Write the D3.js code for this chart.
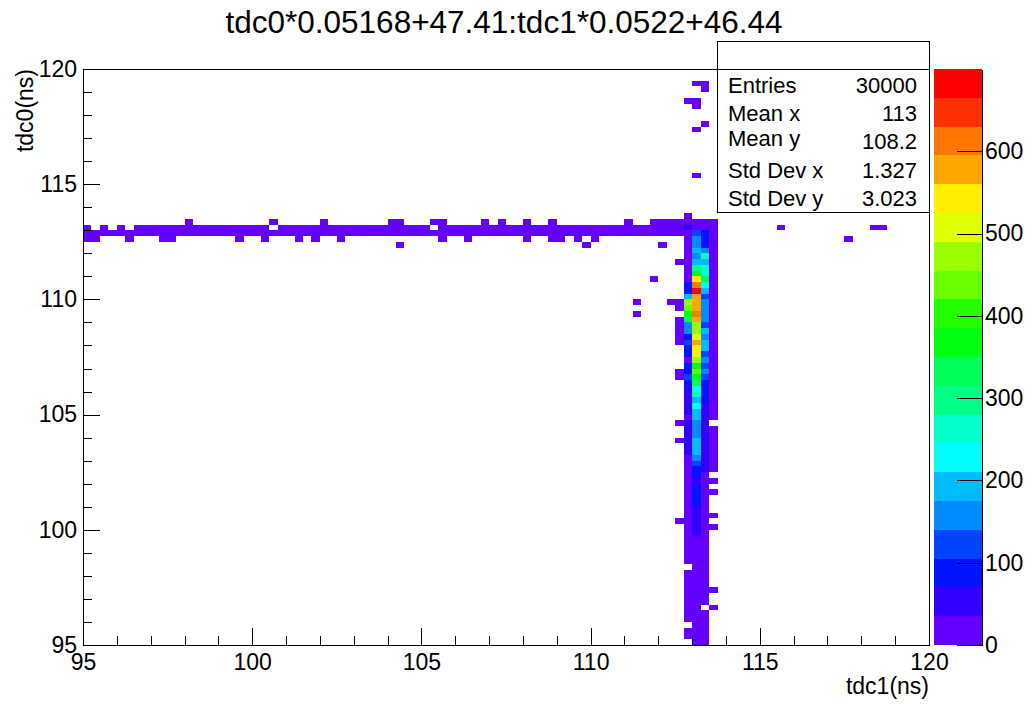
<!DOCTYPE html>
<html>
<head>
<meta charset="utf-8">
<script src="https://cdn.jsdelivr.net/npm/d3@7"></script>
<style>
  body { margin: 0; background: #fff; }
  text { font-family: "Liberation Sans", Arial, Helvetica, sans-serif; fill: #000; }
</style>
</head>
<body>
<svg id="chart" width="1035" height="704"></svg>
<script>
// ---- histogram binning: 100 x 100 bins over 95..120 ns on both axes ----
const xRange = [95, 120];
const yRange = [95, 120];
const nBinsX = 100;
const nBinsY = 100;

// colour (z) axis
const zMax = 700;
const nContours = 20;
const zTicks = [0, 100, 200, 300, 400, 500, 600];
const xMajorTicks = [95, 100, 105, 110, 115, 120];
const yMajorTicks = [95, 100, 105, 110, 115, 120];

// ---- vertical band: counts per y-bin (index 0 = 95.00 ns) for four x-bins ----
const bandColumnBins = [71, 72, 73, 74];
const colA = [0,8,6,0,11,9,14,12,16,13, 18,15,17,0,19,16,21,18,22,20,
  24,21,23,25,22,26,24,27,25,28, 29,30,33,45,50,48,40,45,50,32,
  55,60,58,62,66,80,110,95,90,32, 85,92,120,100,150,160,330,365,440,470,
  190,90,80,30,28,25,22,20,18,15, 12,25,40,10,3];
const colB = [12,15,14,17,16,19,18,20,21,19, 22,24,23,25,26,28,27,30,33,40,
  45,50,55,60,75,80,85,90,65,90, 100,115,150,185,195,190,160,165,170,190,
  200,225,205,260,235,330,370,435,375,470, 540,550,575,510,480,475,580,610,585,590,
  570,667,615,535,365,295,190,165,180,150, 145,120,30,8,0];
const colC = [10,9,11,8,12,10,0,13,11,14, 12,15,13,16,14,17,15,18,16,19,
  17,20,18,21,22,20,23,24,22,26, 38,45,50,55,55,60,60,62,65,66,
  68,65,75,80,85,90,115,150,125,155, 130,185,190,160,180,135,150,155,160,145,
  130,200,225,330,265,260,195,255,160,90, 85,75,25,6,0];
const colD = [0,0,0,0,0,0,2,0,0,1, 0,0,0,0,0,0,0,0,0,0,
  1,0,2,0,0,0,1,0,2,0, 3,4,5,4,6,5,7,6,0,7,
  8,6,9,8,10,9,11,10,12,11, 13,12,14,13,15,14,16,15,14,13,
  15,14,12,13,11,10,9,8,7,6, 5,8,6,3,0];

// ---- horizontal band: counts per x-bin (index 0 = 95.00 ns) for four y-bins ----
const bandRowBins = [73, 72, 71, 70];
const row73 = [0,0,0,0,0,0,0,0,0,0, 0,0,2,0,0,0,0,0,0,0, 0,0,1,0,0,0,0,0,2,0,
  0,0,0,0,0,0,1,2,0,0, 0,2,1,0,0,0,0,1,0,2, 0,0,1,0,0,2,0,0,0,0,
  0,0,0,0,1,0,0,2,3,4, 5];
const row72 = [6,0,5,0,7,0,8,6,9,7, 8,10,9,7,11,8,10,12,9,11, 10,9,0,12,8,10,11,9,13,10,
  9,11,12,10,13,11,12,10,9,11, 12,0,10,13,11,9,12,14,10,12, 11,13,12,10,14,11,12,13,9,11,
  12,14,13,11,15,12,14,16,18,20, 22];
const row71 = [9,8,10,9,11,8,12,10,9,11, 13,11,12,10,14,12,11,13,12,10, 14,12,13,11,12,14,13,15,12,11,
  13,14,12,15,13,12,14,13,15,12, 14,13,15,12,14,16,13,15,14,13, 15,14,16,13,15,14,16,15,13,17,
  15,16,14,17,16,18,17,19,21,24, 26];
const row70 = [2,1,0,0,0,1,0,0,0,2, 1,0,0,0,0,0,0,0,1,0, 0,2,0,0,0,1,0,1,0,0,
  2,0,0,0,0,0,0,0,0,0, 0,0,1,0,0,2,0,0,0,0, 0,0,1,0,0,2,1,0,1,0,
  1,0,0,0,0,0,0,0,0,0, 0];

// ---- isolated bins: [x-bin, y-bin, count] ----
const strayBins = [
  [72,97,1],[73,97,1],[73,96,1],[71,94,1],[72,94,1],[72,93,1],[73,90,1],[72,89,1],[72,81,1],
  [37,69,1],[59,69,1],[68,69,1],[67,63,1],[65,59,1],[65,57,1],[69,59,1],
  [70,66,1],[70,59,2],[70,58,1],[70,56,2],[70,55,1],[70,54,2],[70,53,1],[70,52,1],
  [70,47,1],[70,46,1],[70,38,1],[70,35,1],[70,21,1],
  [82,72,1],[90,70,1],[93,72,1],[94,72,1]
];

// statistics box
const statLabels = ["Entries", "Mean x", "Mean y", "Std Dev x", "Std Dev y"];
const statValues = ["30000", "113", "108.2", "1.327", "3.023"];

const titleText = "tdc0*0.05168+47.41:tdc1*0.0522+46.44";
const xTitle = "tdc1(ns)";
const yTitle = "tdc0(ns)";

// ---- assemble the bin list ----
const cells = [];
[colA, colB, colC, colD].forEach((counts, c) =>
  counts.forEach((v, k) => { if (v > 0) cells.push({ ix: bandColumnBins[c], iy: k, v }); }));
[row73, row72, row71, row70].forEach((counts, r) =>
  counts.forEach((v, i) => { if (v > 0) cells.push({ ix: i, iy: bandRowBins[r], v }); }));
strayBins.forEach(([ix, iy, v]) => cells.push({ ix, iy, v }));

// ---- layout ----
const frame = { left: 83, right: 929, top: 69, bottom: 645 };
const svg = d3.select("#chart");

const x = d3.scaleLinear().domain(xRange).range([frame.left, frame.right]);
const y = d3.scaleLinear().domain(yRange).range([frame.bottom, frame.top]);
const z = d3.scaleLinear().domain([0, zMax]).range([frame.bottom, frame.top]);

// rainbow palette: hue runs from violet down to red (50 shades, sampled at 20 contours)
const paletteSize = 50;
const contourColors = d3.range(nContours).map(j => {
  const idx = Math.floor((j + 0.99) * paletteSize / nContours);
  const hue = idx < paletteSize - 1 ? 280 - (idx + 1) * (280 / paletteSize) : 0;
  return d3.hsl(hue, 1, 0.5).formatHex();
});
const color = d3.scaleQuantize().domain([0, zMax]).range(contourColors);

const xBinW = (xRange[1] - xRange[0]) / nBinsX;
const yBinW = (yRange[1] - yRange[0]) / nBinsY;

// ---- bins ----
svg.append("g").attr("shape-rendering", "crispEdges")
  .selectAll("rect").data(cells).join("rect")
  .attr("x", d => x(xRange[0] + d.ix * xBinW))
  .attr("width", d => x(xRange[0] + (d.ix + 1) * xBinW) - x(xRange[0] + d.ix * xBinW))
  .attr("y", d => y(yRange[0] + (d.iy + 1) * yBinW))
  .attr("height", d => y(yRange[0] + d.iy * yBinW) - y(yRange[0] + (d.iy + 1) * yBinW))
  .attr("fill", d => color(d.v));

// ---- frame ----
svg.append("rect")
  .attr("x", frame.left).attr("y", frame.top)
  .attr("width", frame.right - frame.left).attr("height", frame.bottom - frame.top)
  .attr("fill", "none").attr("stroke", "#000").attr("stroke-width", 1)
  .attr("shape-rendering", "crispEdges");

const tickFont = 23;
function styleAxis(g) {
  g.attr("shape-rendering", "crispEdges");
  g.selectAll(".domain").remove();
  g.selectAll("line").attr("stroke", "#000");
  g.selectAll("text").attr("font-size", tickFont).attr("font-family", "Liberation Sans, Arial, sans-serif").attr("fill", "#000");
}

const xMinor = d3.range(xRange[0], xRange[1] + 1, 1).filter(v => !xMajorTicks.includes(v));
const yMinor = d3.range(yRange[0], yRange[1] + 1, 1).filter(v => !yMajorTicks.includes(v));

// x axis
svg.append("g").attr("transform", `translate(0,${frame.bottom})`)
  .call(d3.axisBottom(x).tickValues(xMajorTicks).tickFormat(d3.format("d")).tickSize(-17).tickPadding(9))
  .call(styleAxis);
svg.append("g").attr("transform", `translate(0,${frame.bottom})`)
  .call(d3.axisBottom(x).tickValues(xMinor).tickFormat("").tickSize(-9))
  .call(styleAxis);

// y axis
svg.append("g").attr("transform", `translate(${frame.left},0)`)
  .call(d3.axisLeft(y).tickValues(yMajorTicks).tickFormat(d3.format("d")).tickSize(-17).tickPadding(6))
  .call(styleAxis);
svg.append("g").attr("transform", `translate(${frame.left},0)`)
  .call(d3.axisLeft(y).tickValues(yMinor).tickFormat("").tickSize(-9))
  .call(styleAxis);

// axis titles
svg.append("text").attr("x", frame.right).attr("y", 694)
  .attr("text-anchor", "end").attr("font-size", 23).text(xTitle);
svg.append("text").attr("transform", `translate(33,${frame.top}) rotate(-90)`)
  .attr("text-anchor", "end").attr("font-size", 23).text(yTitle);

// title
svg.append("text").attr("x", 504).attr("y", 33)
  .attr("text-anchor", "middle").attr("font-size", 31.5).text(titleText);

// ---- colour palette ----
const pal = { left: 934, right: 982 };
const levelStep = zMax / nContours;
svg.append("g").attr("shape-rendering", "crispEdges")
  .selectAll("rect").data(d3.range(nContours)).join("rect")
  .attr("x", pal.left).attr("width", pal.right - pal.left)
  .attr("y", j => z((j + 1) * levelStep))
  .attr("height", j => z(j * levelStep) - z((j + 1) * levelStep))
  .attr("fill", j => contourColors[j]);

const zAxis = svg.append("g").attr("transform", `translate(${pal.right},0)`)
  .call(d3.axisRight(z).tickValues(zTicks).tickFormat(d3.format("d")).tickSize(-25).tickSizeOuter(0).tickPadding(3));
zAxis.attr("shape-rendering", "crispEdges");
zAxis.select(".domain").attr("stroke", "#000");
zAxis.selectAll("line").attr("stroke", "#000");
zAxis.selectAll("text").attr("font-size", tickFont).attr("font-family", "Liberation Sans, Arial, sans-serif").attr("fill", "#000");

// ---- statistics box ----
const box = { left: 717, right: 929, top: 41, header: 69, bottom: 212.5 };
const stats = svg.append("g");
stats.append("rect")
  .attr("x", box.left).attr("y", box.top)
  .attr("width", box.right - box.left).attr("height", box.bottom - box.top)
  .attr("fill", "#fff").attr("stroke", "#000").attr("shape-rendering", "crispEdges");
stats.append("line")
  .attr("x1", box.left).attr("x2", box.right).attr("y1", box.header).attr("y2", box.header)
  .attr("stroke", "#000").attr("shape-rendering", "crispEdges");
const labelBaselines = [92.5, 121, 146, 178, 206];
const valueBaselines = [92.5, 121, 149, 178, 206];
stats.selectAll("text.lab").data(statLabels).join("text").attr("class", "lab")
  .attr("x", 728).attr("y", (d, i) => labelBaselines[i]).attr("font-size", 22).text(d => d);
stats.selectAll("text.val").data(statValues).join("text").attr("class", "val")
  .attr("x", 917).attr("y", (d, i) => valueBaselines[i]).attr("text-anchor", "end").attr("font-size", 22).text(d => d);
</script>
</body>
</html>
